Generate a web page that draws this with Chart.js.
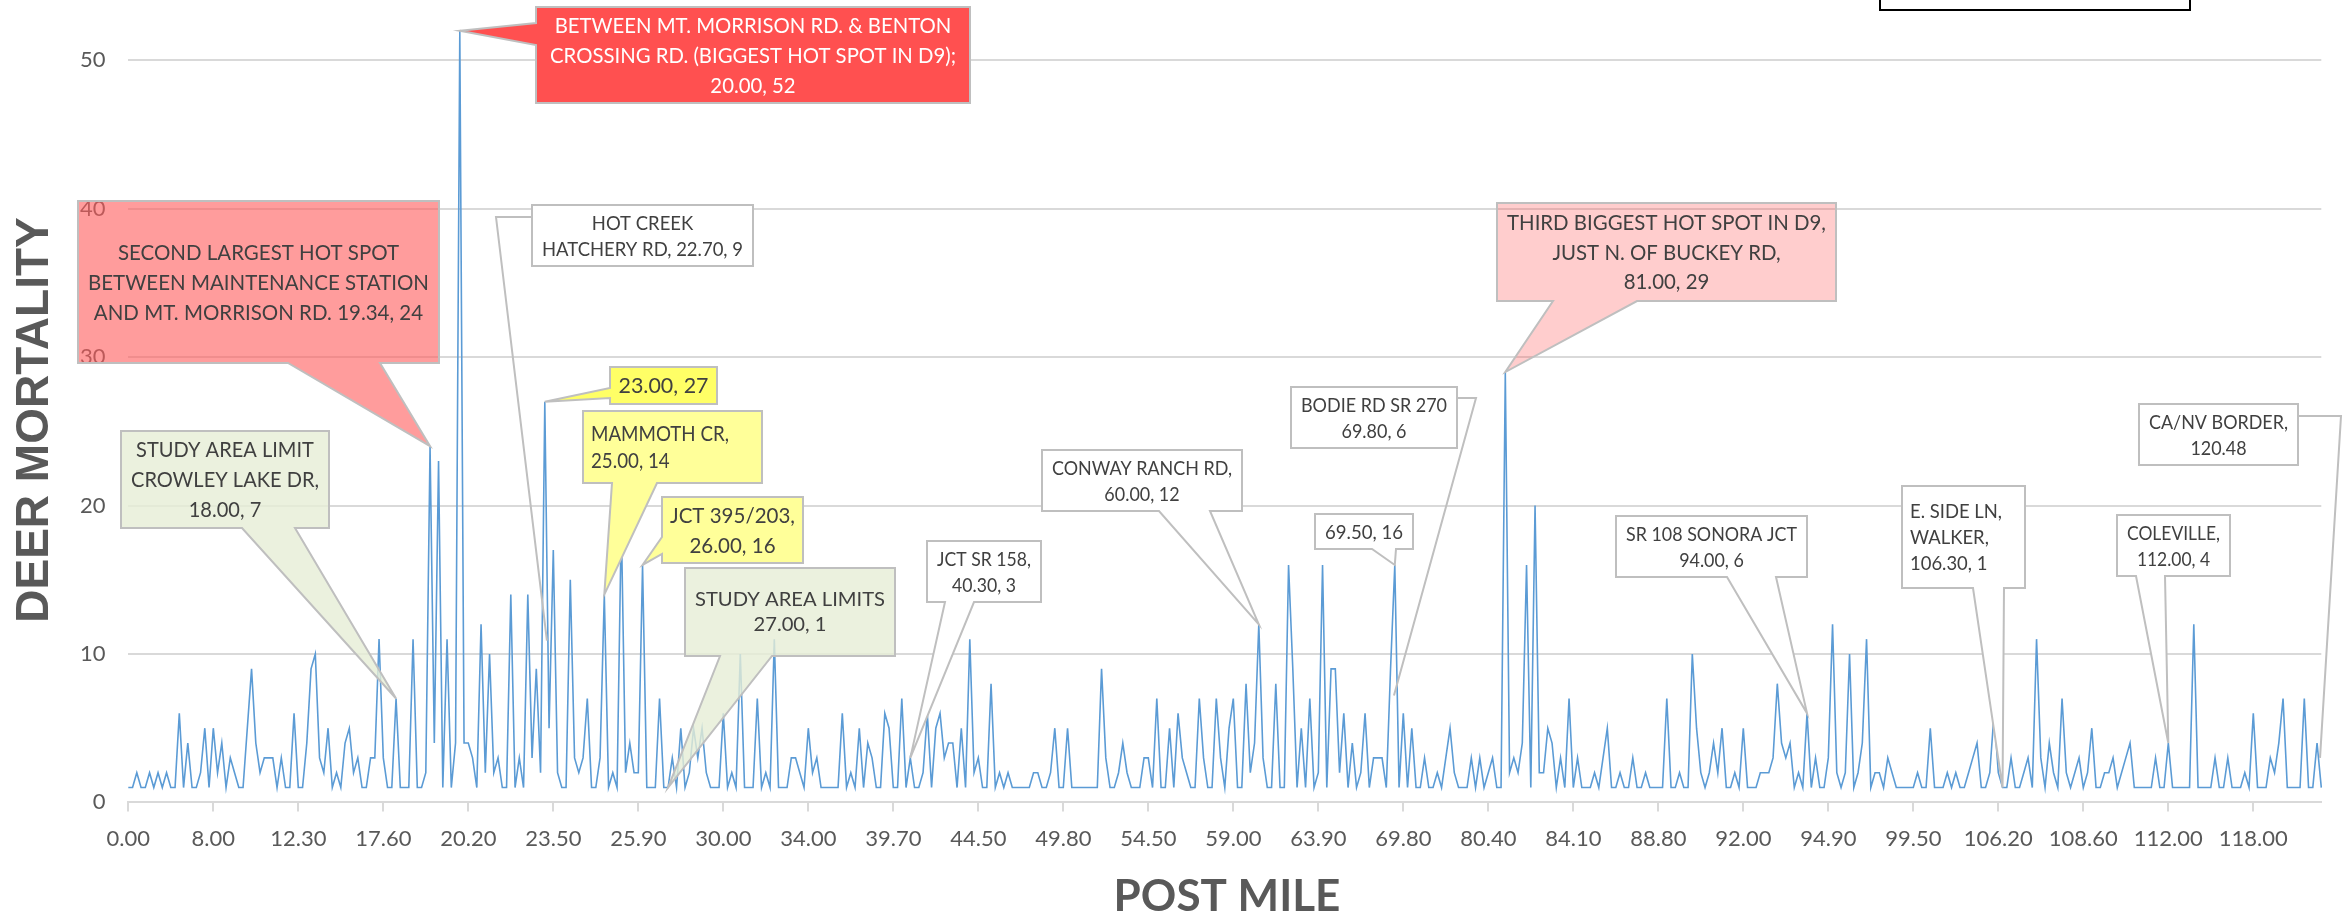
<!DOCTYPE html>
<html>
<head>
<meta charset="utf-8">
<script src="https://cdn.jsdelivr.net/npm/chart.js"></script>
<style>
  html, body { margin: 0; padding: 0; background: #fff; overflow: hidden; }
</style>
</head>
<body>
<canvas id="chart" width="2343" height="918"></canvas>
<script>
Chart.defaults.font.family = "Lato, sans-serif";

// post mile shown under every 20th point
var tickLabels = ['0.00', '8.00', '12.30', '17.60', '20.20', '23.50', '25.90', '30.00', '34.00', '39.70',
    '44.50', '49.80', '54.50', '59.00', '63.90', '69.80', '80.40', '84.10', '88.80', '92.00',
    '94.90', '99.50', '106.20', '108.60', '112.00', '118.00'];
var tickEvery = 20;

// deer mortality per point
var deaths = [
    1,1,2,1,1,2,1,2,1,2, 1,1,6,1,4,1,1,2,5,1,
    5,2,4,1,3,2,1,1,5,9, 4,2,3,3,3,1,3,1,1,6,
    1,1,4,9,10,3,2,5,1,2, 1,4,5,2,3,1,1,3,3,11,
    3,1,1,7,1,1,1,11,1,1, 2,24,4,23,1,11,1,4,52,4,
    4,3,1,12,2,10,2,3,1,1, 14,1,3,1,14,3,9,2,27,5,
    17,2,1,1,15,3,2,3,7,1, 1,3,14,1,2,1,19,2,4,2,
    2,16,1,1,1,7,1,1,3,1, 5,1,2,5,3,5,2,1,1,1,
    6,1,2,1,10,1,1,1,7,1, 2,1,11,1,1,1,3,3,2,1,
    5,2,3,1,1,1,1,1,6,1, 2,1,5,1,4,3,1,1,6,5,
    1,1,7,1,3,1,1,2,6,1, 5,6,3,4,4,1,5,1,11,2,
    3,1,1,8,1,2,1,2,1,1, 1,1,1,2,2,1,1,2,5,1,
    1,5,1,1,1,1,1,1,1,9, 3,1,1,2,4,2,1,1,1,3,
    3,1,7,1,1,5,1,6,3,2, 1,1,7,3,1,1,7,3,1,5,
    7,1,1,8,2,4,12,3,1,1, 8,1,1,16,9,1,5,1,7,1,
    2,16,1,9,9,2,6,1,4,1, 2,6,1,3,3,3,1,9,16,1,
    6,1,5,1,1,3,1,1,2,1, 3,5,2,1,1,1,3,1,3,1,
    2,3,1,1,29,2,3,2,4,16, 1,20,2,2,5,4,1,3,1,7,
    1,3,1,1,1,2,1,3,5,1, 1,2,1,1,3,1,1,2,1,1,
    1,1,7,1,1,2,1,1,10,5, 2,1,2,4,2,5,1,1,2,1,
    5,1,1,1,2,2,2,3,8,4, 3,4,1,2,1,6,1,3,1,1,
    3,12,2,1,2,10,1,2,4,11, 1,2,2,1,3,2,1,1,1,1,
    1,2,1,1,5,1,1,1,2,1, 2,1,1,2,3,4,1,1,2,6,
    2,1,1,3,1,1,2,3,1,11, 3,1,4,2,1,7,2,1,2,3,
    1,2,5,1,1,2,2,3,1,2, 3,4,1,1,1,1,1,3,1,1,
    4,1,1,1,1,1,12,1,1,1, 1,3,1,1,3,1,1,1,2,1,
    6,1,1,1,3,2,4,7,1,1, 1,1,7,1,1,4,1
];

var yMax = 54;
var yStep = 10;

var categories = deaths.map(function(d, i) {
    return i % tickEvery === 0 ? tickLabels[i / tickEvery] : '';
});

// callouts: box in pixels, tip in data coords (point index, value)
var callouts = [
    {lines: ['BETWEEN MT. MORRISON RD. & BENTON', 'CROSSING RD. (BIGGEST HOT SPOT IN D9);', '20.00, 52'],
     box: [536, 7, 970, 103], tip: [78, 52], side: 'left', base: [23, 45], fill: '#ff5050', color: '#ffffff', size: 22, gap: 29.7, pad: 14},
    {lines: ['SECOND LARGEST HOT SPOT', 'BETWEEN MAINTENANCE STATION', 'AND MT. MORRISON RD. 19.34, 24'],
     box: [78, 201, 439, 363], tip: [71, 24], side: 'bottom', base: [288, 380], fill: 'rgba(255,90,90,0.6)', size: 22, gap: 30},
    {lines: ['STUDY AREA LIMIT', 'CROWLEY LAKE DR,', '18.00, 7'],
     box: [121, 431, 329, 528], tip: [63, 7], side: 'bottom', base: [242, 295], fill: 'rgba(230,238,214,0.8)', size: 21, gap: 30},
    {lines: ['HOT CREEK', 'HATCHERY RD, 22.70, 9'],
     box: [532, 205, 753, 266], tip: [98.5, 10.9], side: 'leader', leader: [[532, 217], [496, 217]], fill: '#ffffff', size: 20, gap: 26},
    {lines: ['23.00, 27'],
     box: [610, 367, 717, 404], tip: [98, 27], side: 'left', base: [388, 398], fill: '#ffff66', size: 21, gap: 26, pad: 8.5},
    {lines: ['MAMMOTH CR,', '25.00, 14'],
     box: [583, 411, 762, 483], tip: [112, 14], side: 'bottom', base: [612, 657], fill: '#ffff99', size: 21, gap: 26.5, align: 'left', pad: 8, width: 138},
    {lines: ['JCT 395/203,', '26.00, 16'],
     box: [662, 497, 803, 563], tip: [121, 16], side: 'left', base: [537, 554], fill: '#ffff99', size: 21, gap: 30, pad: 8},
    {lines: ['STUDY AREA LIMITS', '27.00, 1'],
     box: [685, 568, 895, 656], tip: [127, 1], side: 'bottom', base: [720, 772], fill: 'rgba(230,238,214,0.8)', size: 19, gap: 25},
    {lines: ['JCT SR 158,', '40.30, 3'],
     box: [927, 541, 1041, 602], tip: [184, 3], side: 'bottom', base: [945, 974], fill: '#ffffff', size: 20, gap: 25.7},
    {lines: ['CONWAY RANCH RD,', '60.00, 12'],
     box: [1042, 450, 1242, 511], tip: [266, 12], side: 'bottom', base: [1159, 1210], fill: '#ffffff', size: 20, gap: 26},
    {lines: ['BODIE RD SR 270', '69.80, 6'],
     box: [1291, 387, 1457, 448], tip: [297.8, 7.2], side: 'leader', leader: [[1457, 398], [1476, 398]], fill: '#ffffff', size: 20, gap: 26},
    {lines: ['69.50, 16'],
     box: [1315, 514, 1413, 549], tip: [298, 16], side: 'bottom', base: [1372, 1396], fill: '#ffffff', size: 20, gap: 26},
    {lines: ['THIRD BIGGEST HOT SPOT IN D9,', 'JUST N. OF BUCKEY RD,', '81.00, 29'],
     box: [1497, 203, 1836, 301], tip: [324, 29], side: 'bottom', base: [1553, 1637], fill: 'rgba(255,90,90,0.3)', size: 21, gap: 29.3},
    {lines: ['SR 108 SONORA JCT', '94.00, 6'],
     box: [1616, 516, 1807, 577], tip: [395, 6], side: 'bottom', base: [1727, 1776], fill: '#ffffff', size: 20, gap: 25.7},
    {lines: ['E. SIDE LN,', 'WALKER,', '106.30, 1'],
     box: [1902, 486, 2025, 588], tip: [441, 1], side: 'bottom', base: [1973, 2004], fill: '#ffffff', size: 20, gap: 25.8, align: 'left', pad: 8, width: 92},
    {lines: ['COLEVILLE,', '112.00, 4'],
     box: [2117, 515, 2230, 576], tip: [480, 4], side: 'bottom', base: [2136, 2165], fill: '#ffffff', size: 20, gap: 25.7},
    {lines: ['CA/NV BORDER,', '120.48'],
     box: [2139, 404, 2298, 465], tip: [515.7, 3], side: 'leader', leader: [[2298, 416], [2341, 416]], fill: '#ffffff', size: 20, gap: 25.6}
];

function calloutPath(ctx, c, tx, ty) {
    var x0 = c.box[0], y0 = c.box[1], x1 = c.box[2], y1 = c.box[3];
    ctx.beginPath();
    ctx.moveTo(x0, y0);
    ctx.lineTo(x1, y0);
    ctx.lineTo(x1, y1);
    if (c.side === 'bottom') {
        ctx.lineTo(c.base[1], y1);
        ctx.lineTo(tx, ty);
        ctx.lineTo(c.base[0], y1);
    }
    ctx.lineTo(x0, y1);
    if (c.side === 'left') {
        ctx.lineTo(x0, c.base[1]);
        ctx.lineTo(tx, ty);
        ctx.lineTo(x0, c.base[0]);
    }
    ctx.closePath();
}

function drawCalloutText(ctx, c) {
    var pad = c.pad || 10;
    ctx.font = c.size + 'px Lato, sans-serif';
    var widest = Math.max.apply(null, c.lines.map(function(l) { return ctx.measureText(l).width; }));
    var room = c.width || (c.box[2] - c.box[0] - 2 * pad);
    var sx = Math.min(1.15, Math.max(0.8, room / widest));
    var cy = (c.box[1] + c.box[3]) / 2;
    var cap = c.size * 0.72;
    ctx.fillStyle = c.color || '#404040';
    ctx.textBaseline = 'alphabetic';
    c.lines.forEach(function(line, k) {
        var y = cy + (k - (c.lines.length - 1) / 2) * c.gap + cap / 2;
        var x;
        if (c.align === 'left') {
            ctx.textAlign = 'left';
            x = c.box[0] + pad;
        } else {
            ctx.textAlign = 'center';
            x = (c.box[0] + c.box[2]) / 2;
        }
        ctx.save();
        ctx.translate(x, y);
        ctx.scale(sx, 1);
        ctx.fillText(line, 0, 0);
        ctx.restore();
    });
}

var calloutPlugin = {
    id: 'callouts',
    afterDatasetsDraw: function(chart) {
        var ctx = chart.ctx;
        var xs = chart.scales.x, ys = chart.scales.y;
        ctx.save();
        callouts.forEach(function(c) {
            var tx = xs.getPixelForValue(c.tip[0]);
            var ty = ys.getPixelForValue(c.tip[1]);
            ctx.lineWidth = 2;
            ctx.strokeStyle = '#bfbfbf';
            ctx.lineJoin = 'miter';
            if (c.side === 'leader') {
                ctx.beginPath();
                ctx.moveTo(c.leader[0][0], c.leader[0][1]);
                for (var k = 1; k < c.leader.length; k++) ctx.lineTo(c.leader[k][0], c.leader[k][1]);
                ctx.lineTo(tx, ty);
                ctx.stroke();
                ctx.beginPath();
                ctx.rect(c.box[0], c.box[1], c.box[2] - c.box[0], c.box[3] - c.box[1]);
            } else {
                calloutPath(ctx, c, tx, ty);
            }
            ctx.fillStyle = c.fill;
            ctx.fill();
            ctx.stroke();
            drawCalloutText(ctx, c);
        });
        ctx.restore();
    },
    afterDraw: function(chart) {
        var ctx = chart.ctx;
        ctx.save();
        ctx.fillStyle = '#595959';
        ctx.textAlign = 'center';
        ctx.textBaseline = 'alphabetic';
        ctx.font = 'bold 44px Lato, sans-serif';
        ctx.fillText('POST MILE', 1227, 911);
        ctx.translate(48, 420);
        ctx.rotate(-Math.PI / 2);
        ctx.font = 'bold 46px "Liberation Sans", Arial, sans-serif';
        ctx.fillText('DEER MORTALITY', 0, 0);
        ctx.restore();
        // cropped box at the top right
        ctx.save();
        ctx.strokeStyle = '#000000';
        ctx.lineWidth = 2;
        ctx.fillStyle = '#ffffff';
        ctx.fillRect(1880, -5, 310, 15);
        ctx.strokeRect(1880, -5, 310, 15);
        ctx.restore();
    }
};

const ctx = document.getElementById('chart');
new Chart(ctx, {
    type: 'line',
    data: {
        labels: categories,
        datasets: [{
            label: 'DEER MORTALITY',
            data: deaths,
            borderColor: '#5b9bd5',
            borderWidth: 1.6,
            pointRadius: 0,
            tension: 0,
            fill: false
        }]
    },
    options: {
        responsive: false,
        animation: false,
        devicePixelRatio: 1,
        layout: {
            padding: {top: 1, right: 21.7, left: 0, bottom: 0}
        },
        plugins: {
            legend: {display: false},
            tooltip: {enabled: false},
            title: {display: false}
        },
        scales: {
            x: {
                type: 'category',
                offset: false,
                grid: {display: true, drawOnChartArea: false, drawTicks: true, tickLength: 9, color: '#d9d9d9', lineWidth: 2},
                border: {display: true, color: '#d9d9d9', width: 2},
                ticks: {autoSkip: false, maxRotation: 0, minRotation: 0, color: '#595959', font: {size: 22}, padding: 14},
                afterBuildTicks: function(axis) {
                    axis.ticks = axis.ticks.filter(function(t) { return t.value % tickEvery === 0; });
                },
                afterFit: function(axis) {
                    axis.height = 918 - 802.4;
                    axis.paddingLeft = 0;
                    axis.paddingRight = 0;
                }
            },
            y: {
                min: 0,
                max: yMax,
                grid: {color: '#d9d9d9', lineWidth: 2, drawTicks: false},
                border: {display: false},
                ticks: {stepSize: yStep, color: '#595959', font: {size: 22}, padding: 22.7},
                afterBuildTicks: function(axis) {
                    axis.ticks = axis.ticks.filter(function(t) { return t.value % yStep === 0; });
                },
                afterFit: function(axis) {
                    axis.width = 128.3;
                    axis.paddingTop = 0;
                    axis.paddingBottom = 0;
                }
            }
        }
    },
    plugins: [calloutPlugin]
});
</script>
</body>
</html>
